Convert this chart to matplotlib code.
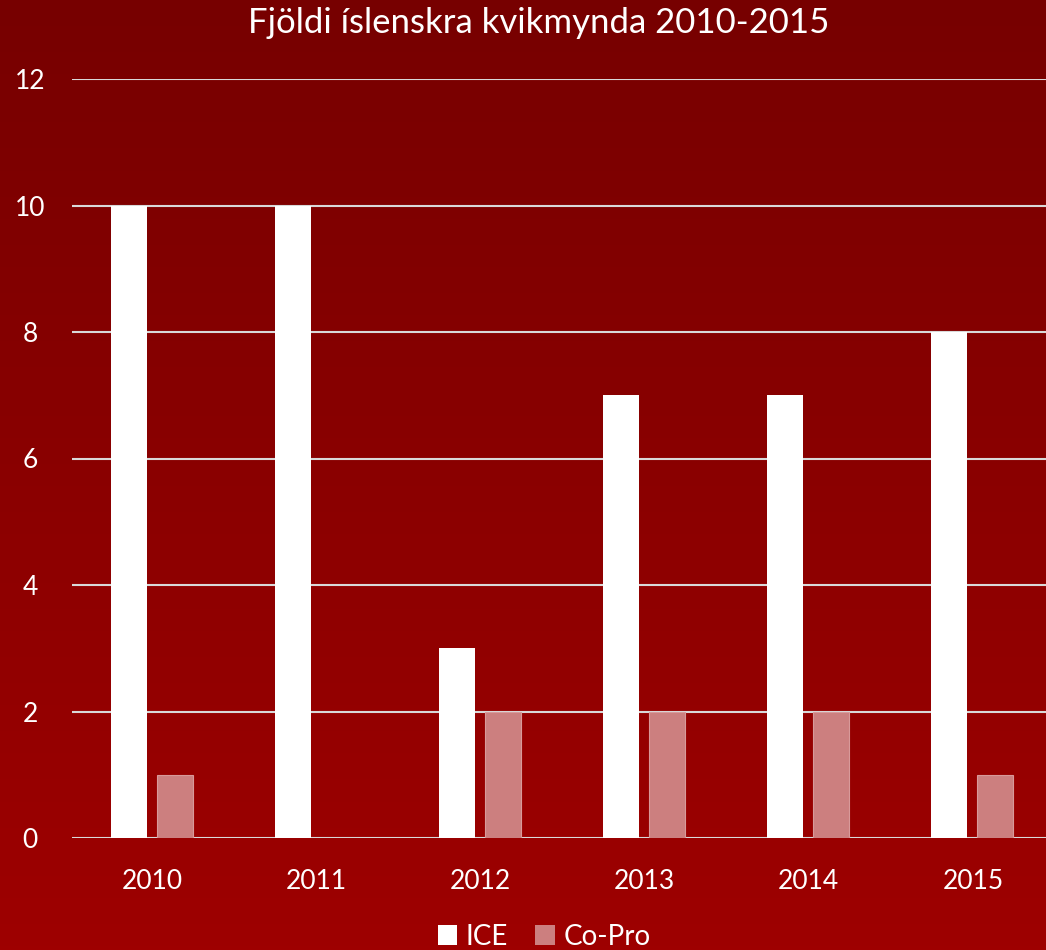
import matplotlib.pyplot as plt
import numpy as np
from matplotlib.patches import Patch
from matplotlib.colors import LinearSegmentedColormap

years = ["2010", "2011", "2012", "2013", "2014", "2015"]
ice = [10, 10, 3, 7, 7, 8]
copro = [1, 0, 2, 2, 2, 1]

plt.rcParams['font.family'] = ['Lato', 'DejaVu Sans']

fig = plt.figure(figsize=(10.46, 9.5), dpi=100)

# background gradient
bg = fig.add_axes([0, 0, 1, 1], zorder=0)
grad = np.linspace(0, 1, 256).reshape(-1, 1)
cmap = LinearSegmentedColormap.from_list("bg", ["#770000", "#9e0000"])
bg.imshow(grad, aspect="auto", cmap=cmap, extent=[0, 1, 0, 1], origin="upper")
bg.axis("off")

ax = fig.add_axes([72/1046, 1 - 838/950, 1 - 72/1046, (838 - 79)/950], zorder=1)
ax.patch.set_alpha(0)

x = np.arange(len(years))
w = 0.22
ax.bar(x - 0.145, ice, w, color="white", zorder=3, label="ICE")
ax.bar(x + 0.135, copro, w, color="#cc7f7f", edgecolor="#d89a9a", linewidth=0.8, zorder=3, label="Co-Pro")

ax.set_xlim(-0.49, 5.445)
ax.set_ylim(0, 12)
ax.set_yticks(np.arange(0, 13, 2))
ax.yaxis.grid(True, color="#d9d9d9", linewidth=1.5, zorder=1)
ax.set_axisbelow(True)
for s in ax.spines.values():
    s.set_visible(False)
ax.tick_params(axis="both", length=0, colors="white", labelsize=19)
ax.tick_params(axis="y", pad=30)
ax.tick_params(axis="x", pad=22)
ax.set_xticks(x)
ax.set_xticklabels(years)
for lbl in ax.get_yticklabels():
    lbl.set_horizontalalignment("center")

fig.text(0.515, 0.976, "Fjöldi íslenskra kvikmynda 2010-2015", color="white",
         fontsize=25, ha="center", va="center")

handles = [Patch(facecolor="white", label="ICE"), Patch(facecolor="#cc7f7f", label="Co-Pro")]
fig.legend(handles=handles, loc="center", bbox_to_anchor=(0.52, 0.014), ncol=2, frameon=False,
           fontsize=20, labelcolor="white", handlelength=0.7, handleheight=0.7,
           handletextpad=0.3, columnspacing=1.0)

fig.savefig("out.png", dpi=100)
